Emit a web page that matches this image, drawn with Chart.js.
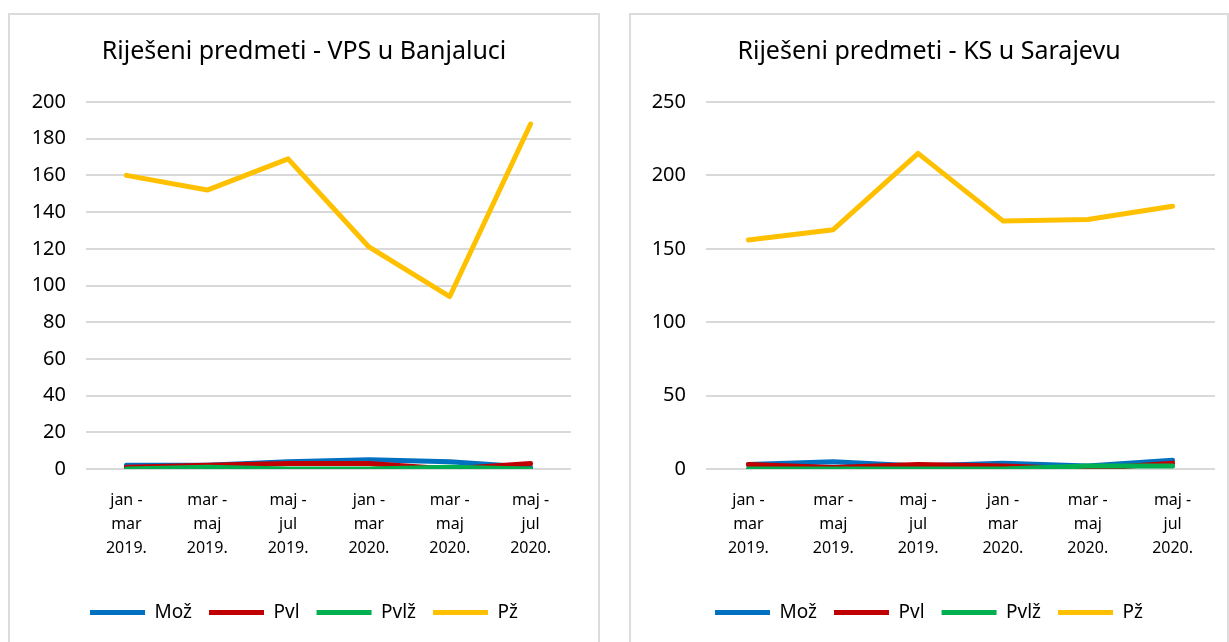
<!DOCTYPE html>
<html>
<head>
<meta charset="utf-8">
<script src="https://cdn.jsdelivr.net/npm/chart.js@4.4.1/dist/chart.umd.min.js"></script>
<style>
  html, body { margin: 0; padding: 0; background: #fff; }
  body { width: 1229px; height: 642px; position: relative; overflow: hidden; }
  .box {
    position: absolute; top: 13px; height: 640px;
    border: 2px solid #dcdcdc; border-bottom: none; box-sizing: border-box;
  }
  #boxA { left: 8px; width: 592px; }
  #boxB { left: 629px; width: 600px; }
  .box canvas { position: absolute; left: 0; top: 0; }
</style>
</head>
<body>
<div class="box" id="boxA"><canvas id="chartA" width="588" height="627"></canvas></div>
<div class="box" id="boxB"><canvas id="chartB" width="596" height="627"></canvas></div>
<script>
const periods = [
  ['jan -', 'mar', '2019.'],
  ['mar -', 'maj', '2019.'],
  ['maj -', 'jul', '2019.'],
  ['jan -', 'mar', '2020.'],
  ['mar -', 'maj', '2020.'],
  ['maj -', 'jul', '2020.']
];
const seriesNames = ['Mož', 'Pvl', 'Pvlž', 'Pž'];
const seriesColors = ['#0070C0', '#C00000', '#00B050', '#FFC000'];

// VPS u Banjaluci
const vpsMoz  = [2, 2, 4, 5, 4, 1];
const vpsPvl  = [1, 2, 3, 3, 0, 3];
const vpsPvlz = [0, 1, 0, 0, 1, 0];
const vpsPz   = [160, 152, 169, 121, 94, 188];

// KS u Sarajevu
const ksMoz  = [3, 5, 2, 4, 2, 6];
const ksPvl  = [3, 1, 3, 2, 0, 4];
const ksPvlz = [0, 0, 0, 0, 2, 2];
const ksPz   = [156, 163, 215, 169, 170, 179];

const FONT = 'Noto Sans';

function makeChart(id, title, series, yMax, yStep, axisWidth, padRight) {
  const datasets = series.map((values, i) => ({
    label: seriesNames[i],
    data: values,
    borderColor: seriesColors[i],
    backgroundColor: seriesColors[i],
    borderWidth: 5,
    borderCapStyle: 'round',
    borderJoinStyle: 'round',
    pointRadius: 0,
    tension: 0,
    order: series.length - i   // later series on top, like Excel
  }));

  return new Chart(document.getElementById(id), {
    type: 'line',
    data: { labels: periods, datasets },
    options: {
      responsive: false,
      animation: false,
      layout: { padding: { left: 0, right: 0, top: 0, bottom: 10 } },
      scales: {
        x: {
          offset: true,
          grid: { display: false },
          border: { display: false },
          afterFit: scale => { scale.height += 15; },
          ticks: {
            color: '#000',
            font: { family: FONT, size: 16, lineHeight: 1.5 },
            maxRotation: 0,
            autoSkip: false,
            padding: 11
          }
        },
        y: {
          min: 0,
          max: yMax,
          afterFit: scale => { scale.width = axisWidth; },
          grid: { color: '#d9d9d9', lineWidth: 2, drawTicks: false },
          border: { display: false },
          ticks: {
            stepSize: yStep,
            color: '#000',
            font: { family: FONT, size: 20 },
            padding: 20
          }
        },
        // empty right-hand spacer, keeps the title centred on the whole box
        spacer: {
          type: 'linear',
          position: 'right',
          display: true,
          afterFit: scale => { scale.width = padRight; },
          grid: { display: false },
          border: { display: false },
          ticks: { display: false }
        }
      },
      plugins: {
        title: {
          display: true,
          text: title,
          color: '#000',
          font: { family: FONT, size: 25, weight: 'normal' },
          padding: { top: 22, bottom: 35 }
        },
        legend: {
          position: 'bottom',
          labels: {
            color: '#000',
            font: { family: FONT, size: 19 },
            usePointStyle: true,
            pointStyle: 'line',
            pointStyleWidth: 55,
            padding: 17,
            sort: (a, b) => a.datasetIndex - b.datasetIndex
          }
        },
        tooltip: { enabled: false }
      }
    }
  });
}

makeChart('chartA', 'Riješeni predmeti - VPS u Banjaluci',
  [vpsMoz, vpsPvl, vpsPvlz, vpsPz], 200, 20, 76, 27);
makeChart('chartB', 'Riješeni predmeti - KS u Sarajevu',
  [ksMoz, ksPvl, ksPvlz, ksPz], 250, 50, 75, 12);
</script>
</body>
</html>
